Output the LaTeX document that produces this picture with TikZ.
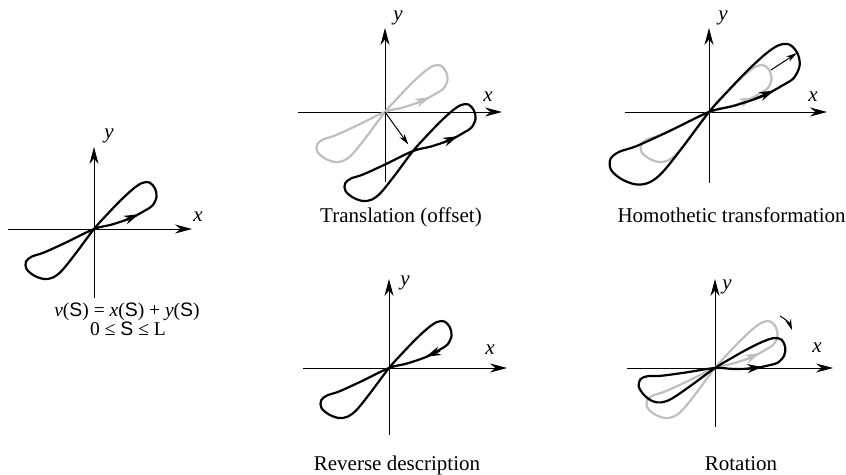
\documentclass[tikz,border=0pt]{standalone}
\usepackage{fontspec}
\setmainfont{Liberation Serif}
\setsansfont{Liberation Sans}
\usetikzlibrary{arrows.meta}

\tikzset{
  axis/.style={line width=0.8pt, -{Stealth[length=17pt, width=9pt]}},
  loopline/.style={line width=2.2pt, line join=round},
  looptip/.style={line width=2pt, >={Stealth[length=15pt, width=9pt]}},
  moveline/.style={line width=1pt, -{Stealth[length=11pt, width=6pt]}},
  faded/.style={color=black!25},
  lbl/.style={font=\fontsize{21}{25}\selectfont\itshape},
  deftext/.style={font=\fontsize{19.5}{22}\selectfont},
  % the closed curve, with its double point at the origin
  pics/eight/.style={code={
    \draw[loopline] plot[smooth cycle, tension=0.55] coordinates {
      (0,0) (18,-4.5) (37,-11) (51,-18.5) (58.5,-23.5) (62.5,-32)
      (61,-40.5) (55.5,-46.5) (48,-46) (39,-40) (27,-29) (14,-15.5) (0,0)
      (-18,24) (-32,41.5) (-41,48.5) (-50,50) (-60,46.5) (-67.5,40)
      (-68,32.5) (-62,27.5) (-50,23.5) (-28,13.5)};
    \draw[looptip, #1] (31,-8.8) -- (45,-14.8);
  }},
  pics/eight/.default={->},
}

\begin{document}
\begin{tikzpicture}[x=1pt, y=-1pt, font=\fontsize{21}{25}\selectfont]
    % pixel coordinates, origin top-left
    \useasboundingbox (0,0) rectangle (846,474);

    % --- Curve and its definition ---
    \begin{scope}[shift={(94,229)}]
        \draw[axis] (-86,0) -- (98,0);
        \draw[axis] (0,69) -- (0,-82);
        \node[lbl] (x1) at (104,-12) {x};
        \node[lbl] (y1) at (15,-93) {y};
        \pic {eight};
    \end{scope}

    % --- Translation ---
    \begin{scope}[shift={(385,112)}]
        \draw[axis] (-87,0) -- (117,0);
        \draw[axis] (0,70) -- (0,-84);
        \node[lbl] (x2) at (103,-15) {x};
        \node[lbl] (y2) at (13,-94) {y};
        \pic[faded] {eight};
        \coordinate (o2) at (0,0);
        \coordinate (c2) at (28,39);
        \draw[moveline, shorten >=8pt] (o2) -- (c2);
        \pic at (c2) {eight};
    \end{scope}

    % --- Homothetic transformation ---
    \begin{scope}[shift={(709,112)}]
        \draw[axis] (-84,0) -- (118,0);
        \draw[axis] (0,71) -- (0,-84);
        \node[lbl] (x3) at (104,-15) {x};
        \node[lbl] (y3) at (14,-94) {y};
        \pic[faded] {eight};
        \pic[scale=1.45] {eight};
        \coordinate (h1) at (62,-42);
        \coordinate (h2) at (88,-59);
        \draw[moveline] (h1) -- (h2);
    \end{scope}

    % --- Reverse description ---
    \begin{scope}[shift={(389,368)}]
        \draw[axis] (-86,0) -- (118,0);
        \draw[axis] (0,67) -- (0,-89);
        \node[lbl] (x4) at (101,-18) {x};
        \node[lbl] (y4) at (16,-85) {y};
        \pic {eight={<-, shift={(6,-2.5)}}};
    \end{scope}

    % --- Rotation ---
    \begin{scope}[shift={(715,368)}]
        \draw[axis] (-88,0) -- (118,0);
        \draw[axis] (0,59) -- (0,-89);
        \node[lbl] (x5) at (102,-20) {x};
        \node[lbl] (y5) at (12,-81) {y};
        \pic[faded] {eight};
        \pic[rotate=-17] {eight};
        \coordinate (r1) at (65,-52);
        \coordinate (r2) at (77,-38);
        \draw[moveline] (r1) to[bend left=20] (r2);
    \end{scope}

    % --- Texts ---
    \node[deftext, anchor=base] (def1) at (127,316)
        {\textit{ν}(\textsf{S}) = \textit{x}(\textsf{S}) + \textit{y}(\textsf{S})};
    \node[deftext, anchor=base] (def2) at (128,335) {0 ≤ \textsf{S} ≤ L};
    \node[anchor=base] (cap2) at (401,222) {Translation (offset)};
    \node[anchor=base west] (cap3) at (614,222) {Homothetic transformation};
    \node[anchor=base] (cap4) at (397,470) {Reverse description};
    \node[anchor=base] (cap5) at (741,470) {Rotation};

\end{tikzpicture}
\end{document}
